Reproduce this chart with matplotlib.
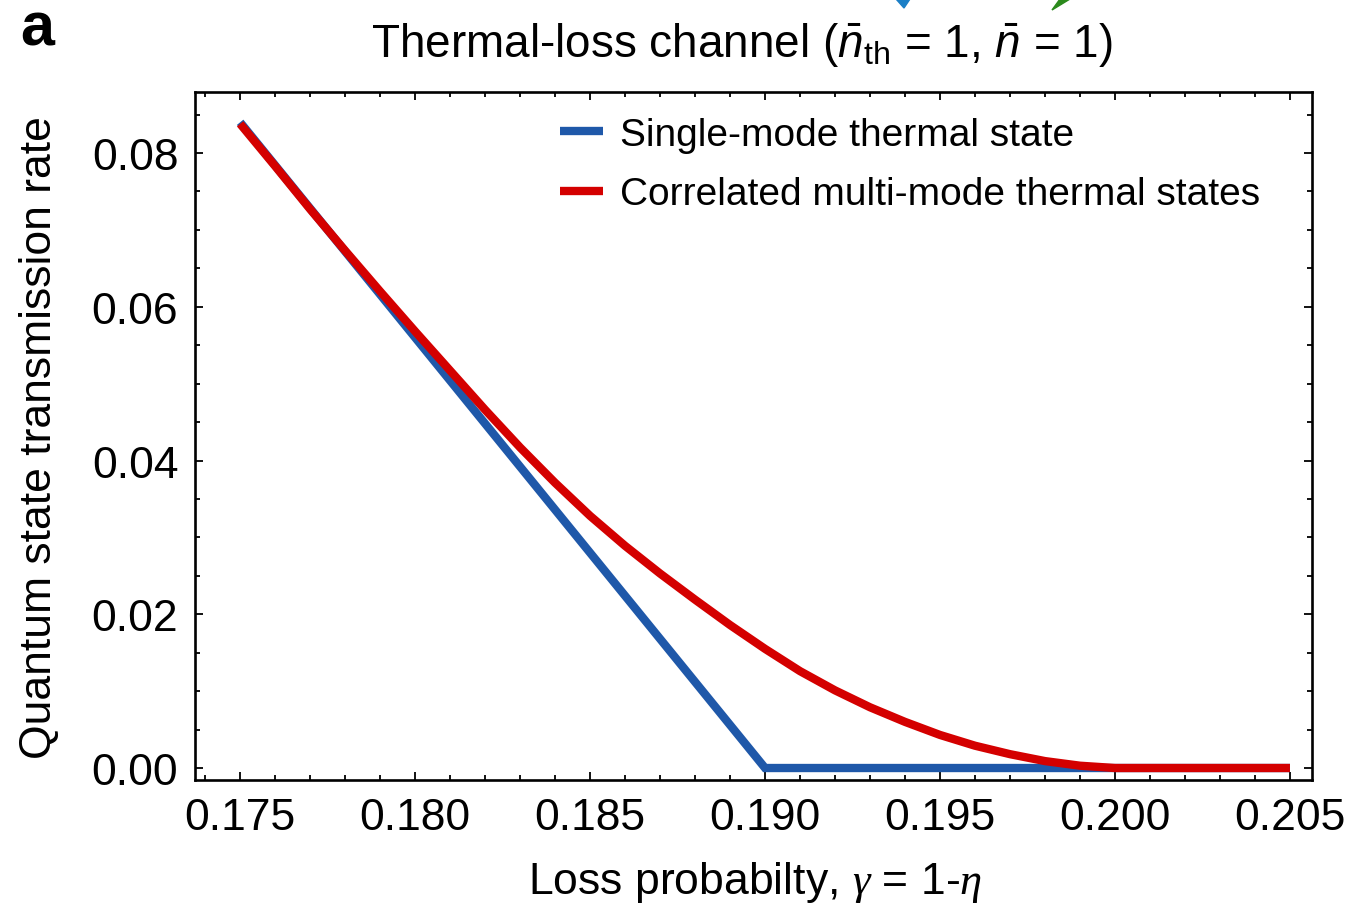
import matplotlib
matplotlib.use("Agg")
import matplotlib.pyplot as plt
from matplotlib.ticker import MultipleLocator, FormatStrFormatter
from matplotlib.patches import Polygon

plt.rcParams['font.family'] = ['Liberation Sans', 'DejaVu Sans']
plt.rcParams['mathtext.fontset'] = 'custom'
plt.rcParams['mathtext.rm'] = 'Liberation Sans'
plt.rcParams['mathtext.it'] = 'Liberation Sans:italic'
plt.rcParams['mathtext.cal'] = 'Liberation Serif:italic'

# ---- data ----
single_x = [0.175, 0.190, 0.205]
single_y = [0.0840, 0.0, 0.0]

multi_x = [0.175, 0.176, 0.177, 0.178, 0.179, 0.180, 0.181, 0.182, 0.183,
           0.184, 0.185, 0.186, 0.187, 0.188, 0.189, 0.190, 0.191, 0.192,
           0.193, 0.194, 0.195, 0.196, 0.197, 0.198, 0.199, 0.200, 0.205]
multi_y = [0.0838, 0.0783, 0.0727, 0.0673, 0.0620, 0.0568, 0.0517, 0.0466,
           0.0417, 0.0371, 0.0328, 0.0289, 0.0253, 0.0219, 0.0186, 0.0155,
           0.0126, 0.0101, 0.0079, 0.0060, 0.0043, 0.0029, 0.0018, 0.0009,
           0.0003, 0.0, 0.0]

x_ticks = [0.175, 0.180, 0.185, 0.190, 0.195, 0.200, 0.205]
y_ticks = [0.00, 0.02, 0.04, 0.06, 0.08]

series_labels = ["Single-mode thermal state", "Correlated multi-mode thermal states"]
title_text = r"Thermal-loss channel ($\bar{n}_{\mathrm{th}}$ = 1, $\bar{n}$ = 1)"
xlabel_text = r"Loss probabilty, $\mathcal{\gamma}$ = 1-$\mathcal{\eta}$"
ylabel_text = "Quantum state transmission rate"

BLUE = "#1f58a9"
RED = "#d40000"

W, H = 1354, 912
fig = plt.figure(figsize=(W / 100, H / 100), dpi=100)
ax = fig.add_axes([195 / W, 1 - 781 / H, (1312 - 195) / W, (781 - 93) / H])

ax.plot(single_x, single_y, color=BLUE, lw=6, solid_capstyle='butt',
        solid_joinstyle='miter', label=series_labels[0], zorder=2)
ax.plot(multi_x, multi_y, color=RED, lw=6, solid_capstyle='butt',
        solid_joinstyle='round', label=series_labels[1], zorder=3)

ax.set_xlim(0.17371, 0.20563)
ax.set_ylim(-0.00156, 0.08794)
ax.set_xticks(x_ticks)
ax.set_yticks(y_ticks)
ax.xaxis.set_major_formatter(FormatStrFormatter('%.3f'))
ax.yaxis.set_major_formatter(FormatStrFormatter('%.2f'))
ax.xaxis.set_minor_locator(MultipleLocator(0.001))
ax.yaxis.set_minor_locator(MultipleLocator(0.005))
ax.tick_params(which='both', direction='in', top=True, right=True,
               labelsize=32, width=1.3, colors='black')
ax.tick_params(which='major', length=6)
ax.tick_params(which='minor', length=3.5)
ax.tick_params(axis='y', pad=12)
ax.tick_params(axis='x', pad=12)
for s in ax.spines.values():
    s.set_linewidth(1.9)

ax.legend(loc='upper left',
          bbox_to_anchor=((560 - 195) / (1312 - 195), 1 - (118 - 93) / (781 - 93)),
          frameon=False, fontsize=28, handlelength=1.1, handletextpad=0.44,
          labelspacing=0.6, borderpad=0, borderaxespad=0)

fig.text(742 / W, 1 - 45 / H, title_text, fontsize=33, ha='center', va='center')
fig.text(755 / W, 1 - 883 / H, xlabel_text, fontsize=32, ha='center', va='center')
fig.text(40 / W, 1 - 438 / H, ylabel_text, fontsize=32, ha='center', va='center',
         rotation=90)
fig.text(20 / W, 1 - 46 / H, "a", fontsize=44, fontweight='bold', ha='left', va='baseline')

# fragments of arrows from the neighbouring panel
fig.patches.append(Polygon([(896 / W, 1.0), (910 / W, 1.0), (904 / W, 1 - 9 / H)],
                           closed=True, transform=fig.transFigure, color="#1b7fc6"))
fig.patches.append(Polygon([(1060 / W, 1.0), (1070 / W, 1.0), (1052 / W, 1 - 11 / H)],
                           closed=True, transform=fig.transFigure, color="#2b8a1c"))

fig.savefig("out.png", dpi=100)
